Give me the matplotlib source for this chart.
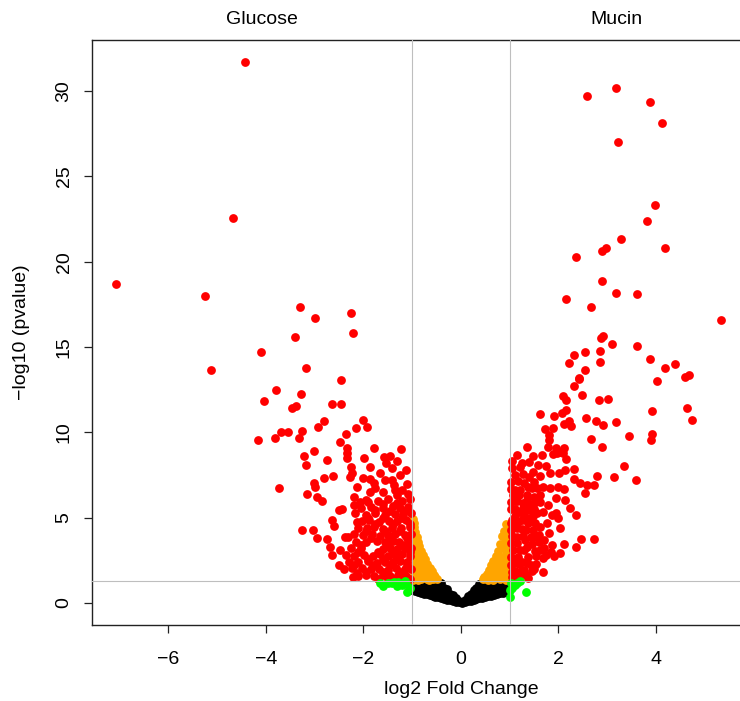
import matplotlib
matplotlib.use("Agg")
import matplotlib.pyplot as plt

plt.rcParams['font.family'] = ['Liberation Sans', 'DejaVu Sans']

# ---------------- data (log2 fold change, -log10 pvalue) ----------------
red_left = [(-4.42,31.72),(-4.67,22.56),(-7.07,18.67),(-5.25,17.99),(-3.29,17.36),(-2.99,16.70),
    (-2.25,16.99),(-3.39,15.60),(-2.22,15.82),(-4.10,14.71),(-5.12,13.63),(-3.79,12.46),(-4.03,11.85),
    (-3.47,11.44),(-3.38,11.52),(-3.69,10.02),(-3.54,10.02),(-3.81,9.67),(-4.16,9.55),(-3.17,13.75),
    (-2.45,13.05),(-3.27,12.26),(-2.65,11.66),(-2.45,11.66),(-2.81,10.65),(-2.93,10.31),(-2.00,10.70),
    (-2.15,10.25),(-1.92,10.29),(-3.25,10.08),(-3.32,9.69),(-2.35,9.88),(-2.47,9.43),(-2.33,9.10),
    (-2.33,8.81),(-1.79,9.10),(-3.02,8.91),(-3.21,8.61),(-2.75,8.38),(-2.34,8.48),(-1.98,8.48),(-1.57,8.57),
    (-3.18,8.07),(-1.54,8.19),(-1.86,7.99),(-2.26,7.95),(-2.24,7.63),(-2.27,7.36),(-2.00,7.31),(-1.86,7.25),
    (-1.77,7.01),(-1.76,6.72),(-1.86,6.52),(-1.42,7.89),(-1.42,7.21),(-1.38,6.91),(-1.35,6.62),(-1.31,6.33),
    (-2.80,7.31),(-2.63,7.44),(-3.00,7.01),(-2.99,6.78),(-3.73,6.72),(-3.15,6.39),(-2.95,6.23),(-2.85,5.98),
    (-2.12,6.81),(-2.18,6.19),(-2.07,5.94),(-2.20,5.74),(-2.50,5.45),(-2.43,5.51),(-2.17,5.29),(-2.65,4.86),
    (-2.60,4.51),(-2.12,4.76),(-3.25,4.28),(-3.04,4.28),(-2.94,3.79),(-2.75,3.75),(-2.68,3.30),(-2.65,2.81),
    (-2.48,3.11),(-2.37,3.88),(-2.31,3.88),(-2.49,2.23),(-2.24,2.03),(-2.13,1.74),(-2.22,1.54)]

red_left_core = [(-1.95,6.05),(-1.7,5.95),(-1.5,6.1),(-1.2,5.98),(-1.05,6.08),
    (-2.05,5.55),(-1.85,5.65),(-1.6,5.58),(-1.4,5.68),(-1.25,5.55),(-1.08,5.62),
    (-1.95,5.18),(-1.75,5.25),(-1.55,5.15),(-1.35,5.22),(-1.18,5.2),(-1.03,5.25),
    (-2.02,4.78),(-1.88,4.85),(-1.68,4.75),(-1.48,4.82),(-1.3,4.78),(-1.12,4.85),
    (-2.1,4.4),(-1.92,4.38),(-1.78,4.45),(-1.6,4.35),(-1.42,4.42),(-1.22,4.4),(-1.05,4.45),
    (-2.2,4.02),(-2.0,3.98),(-1.82,4.05),(-1.65,3.95),(-1.5,4.0),(-1.35,4.05),(-1.15,3.98),(-1.02,4.02),
    (-2.15,3.6),(-1.95,3.55),(-1.72,3.62),(-1.55,3.58),(-1.4,3.65),(-1.26,3.55),(-1.08,3.6),
    (-2.25,3.2),(-2.05,3.25),(-1.6,3.18),(-1.45,3.22),(-1.3,3.15),(-1.15,3.25),(-1.02,3.2),
    (-2.35,2.8),(-2.18,2.75),(-1.98,2.82),(-1.8,2.78),(-1.65,2.85),(-1.5,2.75),(-1.35,2.8),(-1.2,2.85),(-1.05,2.78),
    (-2.3,2.4),(-2.1,2.38),(-1.9,2.45),(-1.72,2.35),(-1.55,2.42),(-1.4,2.38),(-1.25,2.45),(-1.1,2.4),
    (-2.4,2.0),(-2.02,2.05),(-1.85,1.98),(-1.68,2.02),(-1.5,1.95),(-1.32,2.05),(-1.15,1.98),(-1.02,2.02),
    (-2.1,1.6),(-1.95,1.62),(-1.78,1.58),(-1.6,1.65),(-1.45,1.58),(-1.28,1.62),(-1.12,1.6),
    (-1.7,1.4),(-1.5,1.42),(-1.35,1.38),(-1.2,1.42),(-1.05,1.4),
    (-1.9,5.9),(-1.6,5.8),(-1.3,5.85),(-1.15,5.4),(-1.45,5.4),(-1.75,5.45),(-1.9,5.0),(-1.6,5.0),
    (-1.2,5.0),(-1.05,4.65),(-1.4,4.6),(-1.75,4.6),(-1.95,4.2),(-1.55,4.2),(-1.25,4.2),(-1.1,3.8),
    (-1.45,3.8),(-1.85,3.8),(-2.05,3.4),(-1.5,3.4),(-1.2,3.4),(-1.05,3.0),(-1.4,3.0),(-1.7,3.0),
    (-2.1,3.0),(-1.9,2.6),(-1.6,2.6),(-1.3,2.6),(-1.1,2.2),(-1.45,2.2),(-1.8,2.2),(-2.2,2.2),
    (-1.95,1.8),(-1.6,1.8),(-1.25,1.8),(-1.08,6.4),(-1.2,6.6),(-1.1,7.0),(-1.25,7.5),(-1.6,6.5),
    (-1.55,7.2),(-1.65,7.6),(-1.12,7.8),(-1.3,8.3),(-1.45,8.6),(-1.22,9.0)]

red_right = [(3.19,30.19),(2.59,29.71),(3.88,29.35),(4.12,28.14),(3.22,26.99),(3.98,23.30),(3.82,22.38),
    (3.29,21.33),(4.18,20.78),(2.98,20.82),(2.89,20.62),(2.35,20.25),(2.89,18.89),(3.19,18.18),(3.62,18.10),
    (2.16,17.79),(2.66,17.36),(5.33,16.56),(2.88,15.55),(2.92,15.63),(3.10,15.18),(3.62,15.08),(2.31,14.53),
    (2.54,14.71),(2.85,14.77),(2.21,14.04),(2.85,14.10),(3.88,14.28),(4.39,14.02),(4.19,13.75),(4.59,13.24),
    (4.67,13.36),(2.54,13.67),(2.43,13.2),(2.43,13.1),(4.03,12.99),(2.31,12.70),(2.49,12.19),(2.09,12.13),
    (2.16,11.89),(2.83,11.89),(3.02,11.97),(3.91,11.27),(4.63,11.43),(4.73,10.72),(2.16,11.29),(2.07,11.11),
    (2.57,10.86),(2.76,10.66),(2.92,10.43),(3.17,10.61),(2.22,10.68),(2.12,10.47),(2.25,10.37),(3.45,9.77),
    (3.92,9.90),(3.89,9.55),(2.67,9.59),(2.90,9.12),(2.11,9.06),(2.09,8.81),(2.16,8.45),
    (1.62,11.06),(1.91,10.98),(1.88,10.27),(1.73,10.20),(1.80,9.84),(1.81,9.55),(1.35,9.12),(1.79,9.16),
    (1.94,9.10),(2.06,8.87),(1.98,8.77),(1.88,8.73),(1.48,8.61),(1.67,8.65),
    (1.58,8.09),(1.75,8.03),(3.34,8.05),(2.31,7.85),(1.47,7.69),(1.40,7.36),(1.62,7.44),(1.83,7.60),
    (2.02,7.60),(2.14,7.79),(2.80,7.44),(3.13,7.36),(3.59,7.21),(2.31,7.25),(2.44,7.05),(2.58,6.91),
    (2.72,6.91),(1.11,6.62),(1.38,6.81),(1.56,6.72),(1.69,6.81),(1.83,6.72),(2.00,6.81),(2.12,6.66),
    (2.54,6.43),(1.35,6.33),(1.50,6.23),(1.62,6.33),(1.96,6.13),(2.14,6.03),(1.28,5.84),(1.42,5.74),
    (1.62,5.94),(1.79,5.74),(2.24,5.55),(2.36,5.16),(1.11,5.49),(1.21,5.35),(1.38,5.45),(1.56,5.26),
    (1.69,5.35),(1.86,5.16),(1.96,5.26),(2.00,4.96),(1.04,4.86),(1.25,4.86),(1.42,4.96),(1.52,4.67),
    (1.62,4.43),(1.76,4.67),(2.03,4.38),(1.15,4.38),(1.34,4.28),(1.43,3.88),(1.32,3.69),(1.15,3.88),
    (2.46,3.75),(2.72,3.73),(2.37,3.30),(2.11,3.44),(1.86,3.40),(1.70,3.20),(1.74,2.81),(1.52,3.06),
    (1.36,3.26),(1.21,3.11),(2.03,2.95),(1.90,2.75),(1.68,2.62),(1.43,2.23),(1.25,2.42),(1.09,2.33),
    (1.68,1.83),(1.34,1.64),(1.16,1.74),(1.04,1.83)]

red_right_core = [(1.05,7.9),(1.22,7.95),(1.1,7.5),(1.28,7.55),(1.02,7.1),(1.18,7.12),(1.3,7.05),(1.5,7.1),
    (1.03,6.7),(1.22,6.65),(1.45,6.72),(1.07,6.3),(1.2,6.35),(1.02,5.9),(1.15,5.95),(1.5,5.88),
    (1.03,5.5),(1.28,5.55),(1.5,5.48),(1.1,5.1),(1.3,5.12),(1.47,5.08),(1.02,4.7),(1.18,4.72),(1.38,4.68),
    (1.03,4.3),(1.25,4.32),(1.48,4.28),(1.05,3.9),(1.28,3.92),(1.55,3.88),(1.02,3.5),(1.16,3.52),(1.45,3.48),
    (1.6,3.55),(1.07,3.1),(1.3,3.12),(1.62,3.08),(1.02,2.7),(1.18,2.72),(1.38,2.68),(1.55,2.75),
    (1.2,2.3),(1.35,2.32),(1.55,2.28),(1.12,1.9),(1.25,1.92),(1.45,1.88),(1.05,1.5),(1.2,1.52),(1.38,1.48),
    (1.05,8.3),(1.15,8.7),(1.25,8.2),(1.4,8.25),(1.1,6.0),(1.35,6.05),(1.6,4.0),(1.7,3.7),(1.8,4.1),
    (1.85,3.0),(1.5,2.0),(1.02,2.2),(1.3,1.95)]

orange_pts = [(-0.99,4.95),(-0.97,4.7),(-0.95,4.45),(-0.99,4.3),(-0.93,4.15),(-0.97,3.95),(-0.9,3.85),
    (-0.99,3.7),(-0.88,3.6),(-0.94,3.45),(-0.85,3.35),(-0.99,3.2),(-0.9,3.1),(-0.81,3.05),(-0.96,2.9),
    (-0.78,2.8),(-0.87,2.7),(-0.99,2.6),(-0.73,2.55),(-0.82,2.45),(-0.93,2.35),(-0.69,2.3),(-0.77,2.2),
    (-0.99,2.1),(-0.87,2.05),(-0.64,2.05),(-0.72,1.95),(-0.95,1.85),(-0.6,1.85),(-0.8,1.8),(-0.67,1.7),
    (-0.88,1.65),(-0.56,1.65),(-0.99,1.55),(-0.74,1.55),(-0.62,1.5),(-0.52,1.5),(-0.92,1.45),(-0.82,1.42),
    (-0.7,1.4),(-0.58,1.38),(-0.48,1.38),(-0.98,1.35),(-0.88,1.34),(-0.65,1.33),
    (0.92,4.6),(0.97,4.35),(0.88,4.2),(0.95,4.0),(0.84,3.9),(0.99,3.75),(0.9,3.6),(0.8,3.45),(0.96,3.3),
    (0.86,3.2),(0.76,3.05),(0.99,2.95),(0.92,2.85),(0.72,2.75),(0.82,2.7),(0.97,2.55),(0.66,2.45),
    (0.76,2.4),(0.88,2.3),(0.62,2.2),(0.99,2.15),(0.7,2.05),(0.82,2.0),(0.57,1.95),(0.93,1.85),(0.64,1.8),
    (0.75,1.75),(0.53,1.7),(0.86,1.6),(0.98,1.5),(0.6,1.55),(0.48,1.5),(0.7,1.45),(0.8,1.4),(0.45,1.38),
    (0.55,1.35),(0.92,1.36),(0.65,1.33)]

green_pts = [(-1.59,1.02),(-1.42,1.15),(-1.38,1.25),(-1.31,0.98),(-1.28,1.22),(-1.21,1.05),(-1.14,1.28),
    (-1.12,1.12),(-1.11,0.64),(-1.05,0.9),(-1.5,1.2),(-1.65,1.15),
    (1.01,0.35),(1.34,0.62),(1.21,1.28),(1.15,1.15),(1.04,0.9),(1.02,1.2),(1.1,1.05),(1.01,0.75)]

black_x = [-1.00,-1.00,-1.00, -0.94,-0.94,-0.94, -0.88,-0.88,-0.88, -0.82,-0.82,-0.82,-0.82,
    -0.76,-0.76,-0.76,-0.76, -0.70,-0.70,-0.70,-0.70, -0.64,-0.64,-0.64,-0.64,
    -0.58,-0.58,-0.58,-0.58,-0.58, -0.52,-0.52,-0.52,-0.52,-0.52, -0.46,-0.46,-0.46,-0.46,-0.46,
    -0.40,-0.40,-0.40,-0.40,-0.40, -0.34,-0.34,-0.34,-0.34, -0.28,-0.28,-0.28,-0.28,
    -0.22,-0.22,-0.22, -0.16,-0.16,-0.16, -0.10,-0.10,-0.10, -0.04,-0.04, 0.02,0.02, 0.08,0.08,
    0.14,0.14,0.14, 0.20,0.20,0.20, 0.26,0.26,0.26,0.26, 0.32,0.32,0.32,0.32,
    0.38,0.38,0.38,0.38,0.38, 0.44,0.44,0.44,0.44,0.44, 0.50,0.50,0.50,0.50,0.50,
    0.56,0.56,0.56,0.56,0.56, 0.62,0.62,0.62,0.62, 0.68,0.68,0.68,0.68, 0.74,0.74,0.74,0.74,
    0.80,0.80,0.80,0.80, 0.86,0.86,0.86, 0.92,0.92,0.92, 0.98,0.98,0.98]
black_y = [0.75,1.0,1.2, 0.68,0.95,1.18, 0.62,0.88,1.15, 0.58,0.82,1.05,1.22,
    0.53,0.78,1.0,1.2, 0.5,0.72,0.95,1.18, 0.45,0.68,0.9,1.12,
    0.41,0.62,0.85,1.08,1.24, 0.37,0.58,0.8,1.02,1.22, 0.33,0.54,0.76,0.98,1.2,
    0.29,0.5,0.72,0.95,1.15, 0.25,0.45,0.68,0.9, 0.2,0.4,0.6,0.8,
    0.16,0.35,0.55, 0.12,0.28,0.45, 0.07,0.2,0.3, 0.03,0.12, 0.01,0.08, 0.05,0.18,
    0.1,0.25,0.4, 0.14,0.32,0.55, 0.18,0.38,0.6,0.75, 0.22,0.42,0.65,0.9,
    0.27,0.48,0.7,0.95,1.12, 0.3,0.52,0.75,1.0,1.2, 0.35,0.56,0.8,1.02,1.22,
    0.4,0.6,0.82,1.05,1.24, 0.43,0.65,0.88,1.1, 0.48,0.7,0.92,1.15, 0.52,0.75,0.98,1.2,
    0.56,0.8,1.02,1.22, 0.6,0.85,1.08, 0.65,0.9,1.12, 0.7,0.95,1.18]

x_ticks = [-6, -4, -2, 0, 2, 4]
y_ticks = [0, 5, 10, 15, 20, 25, 30]
fc_cut = 1.0
p_cut = 1.3
group_labels = ["Glucose", "Mucin"]

# ---------------- figure ----------------
W, H = 740, 701
fig = plt.figure(figsize=(W / 100, H / 100), dpi=100)
ax_l, ax_r, ax_t, ax_b = 92, 829.7, 40, 625
ax = fig.add_axes([ax_l / W, 1 - ax_b / H, (ax_r - ax_l) / W, (ax_b - ax_t) / H])
ax.set_xlim(-7.56, 7.56)
ax.set_ylim(-1.29, 32.99)

def unzip(pts):
    return [p[0] for p in pts], [p[1] for p in pts]

ms = 40
ax.scatter(black_x, black_y, s=ms, c='black', linewidths=0, zorder=2)
ox, oy = unzip(orange_pts)
ax.scatter(ox, oy, s=ms, c='#FFA500', linewidths=0, zorder=2)
for pts in (red_left, red_left_core, red_right, red_right_core):
    rx, ry = unzip(pts)
    ax.scatter(rx, ry, s=ms, c='#FF0000', linewidths=0, zorder=2)
gx, gy = unzip(green_pts)
ax.scatter(gx, gy, s=ms, c='#00FF00', linewidths=0, zorder=2)

for v in (-fc_cut, fc_cut):
    ax.axvline(v, color='#BEBEBE', lw=0.8, zorder=3)
ax.axhline(p_cut, color='#BEBEBE', lw=0.8, zorder=3)

ax.set_xticks(x_ticks)
ax.set_yticks(y_ticks)
ax.tick_params(axis='both', direction='out', length=6, width=0.9, labelsize=14, color='#222222')
ax.tick_params(axis='x', pad=13)
ax.tick_params(axis='y', pad=8)
for lab in ax.get_yticklabels():
    lab.set_rotation(90)
    lab.set_va('center')
for sp in ax.spines.values():
    sp.set_linewidth(1.0)
    sp.set_color('#222222')

ax.set_xlabel("log2 Fold Change", fontsize=14)
ax.xaxis.set_label_coords(0.5, (H - 690 - (H - ax_b)) / (ax_b - ax_t))
ax.xaxis.label.set_va('center')
ax.set_ylabel("\u2212log10 (pvalue)", fontsize=14)
ax.yaxis.set_label_coords((22 - ax_l) / (ax_r - ax_l), 0.5)
ax.yaxis.label.set_va('center')

fig.text(262 / W, 1 - 20 / H, group_labels[0], ha='center', va='center', fontsize=14)
fig.text(616 / W, 1 - 20 / H, group_labels[1], ha='center', va='center', fontsize=14)

fig.savefig("out.png", dpi=100)
